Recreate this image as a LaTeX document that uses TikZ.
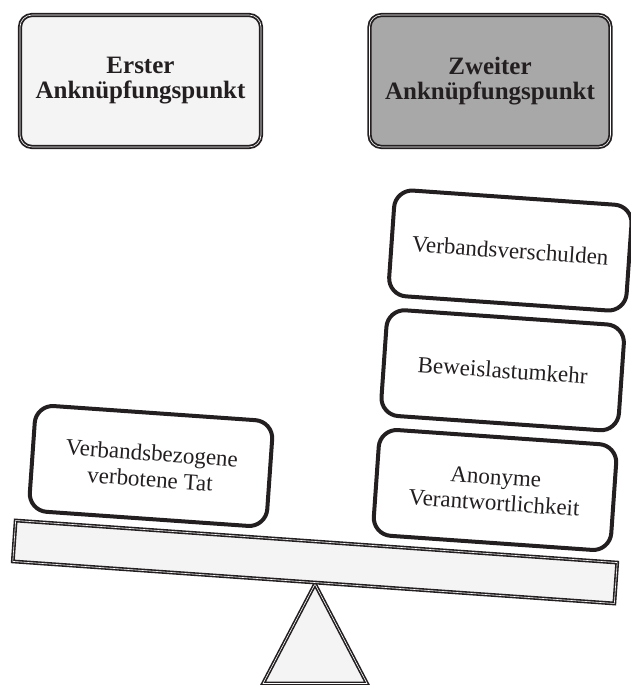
\documentclass[tikz,border=0pt]{standalone}
\usepackage{fontspec}
\setmainfont{Liberation Serif}
\usepackage{tikz}
\usetikzlibrary{positioning,calc}
\definecolor{inkdark}{HTML}{231F20}
\definecolor{paleFill}{HTML}{F4F4F4}
\definecolor{midFill}{HTML}{A8A8A8}

\begin{document}
\begin{tikzpicture}[
    x=1pt, y=1pt,
    head/.style={rectangle, draw=inkdark, double=white, line width=1.8pt, double distance=0.6pt, rounded corners=12pt, minimum width=241pt, minimum height=132pt, align=center, text=inkdark, font=\fontsize{25}{25}\selectfont\bfseries},
    weight/.style={rectangle, draw=inkdark, line width=4pt, rounded corners=18pt, fill=white, minimum width=238pt, minimum height=106pt, align=center, text=inkdark, font=\fontsize{23}{26}\selectfont, rotate=-4},
    part/.style={draw=inkdark, double=white, line width=1.6pt, double distance=0.6pt, fill=paleFill, line join=miter}
]
    \useasboundingbox (0,0) rectangle (630,685);

    % Headings
    \node[head, fill=paleFill] (erster) at (140.5,604) {Erster\\Ankn\"upfungspunkt};
    \node[head, fill=midFill] (zweiter) at (490,604) {Zweiter\\Ankn\"upfungspunkt};

    % Fulcrum and beam
    \coordinate (pivot) at (315,101);
    \draw[part] (pivot) -- (263,1.5) -- (367,1.5) -- cycle;
    \node[part, rectangle, minimum width=603pt, minimum height=41pt, rotate=-4] (beam) at (315,123) {};

    % Weights on the left
    \node[weight] (tat) at (151,219) {Verbandsbezogene\\verbotene Tat};

    % Weights on the right, stacked
    \node[weight] (anon) at (495,195) {Anonyme\\Verantwortlichkeit};
    \node[weight, above=10pt of anon] (beweis) {Beweislastumkehr};
    \node[weight, above=10pt of beweis] (schuld) {Verbandsverschulden};
\end{tikzpicture}
\end{document}
